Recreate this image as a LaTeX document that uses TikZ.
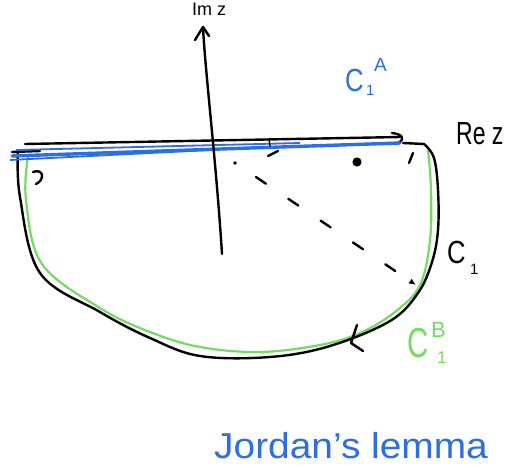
\documentclass[tikz,border=0pt]{standalone}
\usepackage{fontspec}
\setsansfont{Liberation Sans}
\usetikzlibrary{arrows.meta}
\definecolor{penblue}{RGB}{45,110,225}
\definecolor{pengreen}{RGB}{120,218,100}
\begin{document}
\begin{tikzpicture}[x=1pt,y=-1pt,
  ink/.style={line width=2.4pt,line cap=round,line join=round},
  bluepen/.style={penblue,line width=3.4pt,line cap=round},
  greenpen/.style={pengreen,line width=2.2pt,line cap=round,line join=round},
  lbl/.style={inner sep=0pt,anchor=base west,font=\sffamily}]
\useasboundingbox (0,0) rectangle (512,468);
\fill[white] (0,0) rectangle (512,468);
\clip (0,0) rectangle (512,468);

% green contour C1^B
\draw[greenpen] plot[smooth,tension=0.6] coordinates {(28,156) (26,200) (42,264) (100,308) (150,332) (200,347) (260,352) (320,345) (360,333) (395,312) (420,285) (430,240) (431,190) (428,150)};

% black contour C1
\draw[ink] plot[smooth,tension=0.6] coordinates {(18,150) (20,197) (40,273) (100,312) (150,338) (200,356) (270,357) (330,346) (390,321) (418,293) (432,262) (438,230) (438,190) (434,158) (424,144)} -- (403,143);

% real axis
\draw[ink] (25,144) -- (400,137);
\draw[ink] (392,133) .. controls (402,134) and (406,139) .. (398,143);
\draw[ink] (12,152) -- (40,151);

% blue path C1^A along the axis
\draw[bluepen] (12,156) -- (400,143);
\draw[penblue,line width=1.8pt] (16,150) -- (300,143);
\draw[penblue,line width=1.8pt] (10,160) -- (210,150);

% imaginary axis
\draw[ink] (222,254) .. controls (216,160) and (206,80) .. (203,28);
\draw[ink] (195,40) -- (203,27) -- (209,36);

% small marks
\draw[ink] (268,156) -- (278,151);
\draw[ink,line width=1.4pt] (269,139) -- (270,146);
\draw[ink] (413,153) -- (409,163);
\draw[ink] (33,172) .. controls (44,168) and (45,180) .. (36,184);
\draw[ink] (357,325) -- (351,343) -- (363,351);

% dots
\fill (357,162) circle (4.6);
\fill (235,163) circle (1.8);

% dashed radius
\draw[ink,dash pattern=on 12pt off 27pt,-{Latex[length=7pt,width=6pt]}] (256,177) -- (416,285);

% labels
\node[lbl,penblue,font=\sffamily\fontsize{32}{32}\selectfont,xscale=0.8] (ca) at (345,92) {C};
\node[lbl,penblue,font=\sffamily\fontsize{15}{15}\selectfont] (ca1) at (366,96) {1};
\node[lbl,penblue,font=\sffamily\fontsize{19}{19}\selectfont] (caA) at (374,72) {A};

\node[lbl,font=\sffamily\fontsize{32}{32}\selectfont,xscale=0.8] (cb) at (447,264) {C};
\node[lbl,font=\sffamily\fontsize{15}{15}\selectfont] (cb1) at (470,274) {1};

\node[lbl,pengreen,font=\sffamily\fontsize{42}{42}\selectfont,xscale=0.7] (cc) at (407,357) {C};
\node[lbl,pengreen,font=\sffamily\fontsize{17}{17}\selectfont] (cc1) at (437,363) {1};
\node[lbl,pengreen,font=\sffamily\fontsize{22}{22}\selectfont] (ccB) at (431,337) {B};

\node[lbl,font=\sffamily\fontsize{32}{32}\selectfont,xscale=0.72] (re) at (456,145) {Re z};
\node[lbl,font=\sffamily\fontsize{18}{18}\selectfont] (im) at (192,16) {Im z};

\node[lbl,penblue,font=\sffamily\fontsize{36}{36}\selectfont,xscale=1.08] (jl) at (214,458) {Jordan's lemma};
\end{tikzpicture}
\end{document}
